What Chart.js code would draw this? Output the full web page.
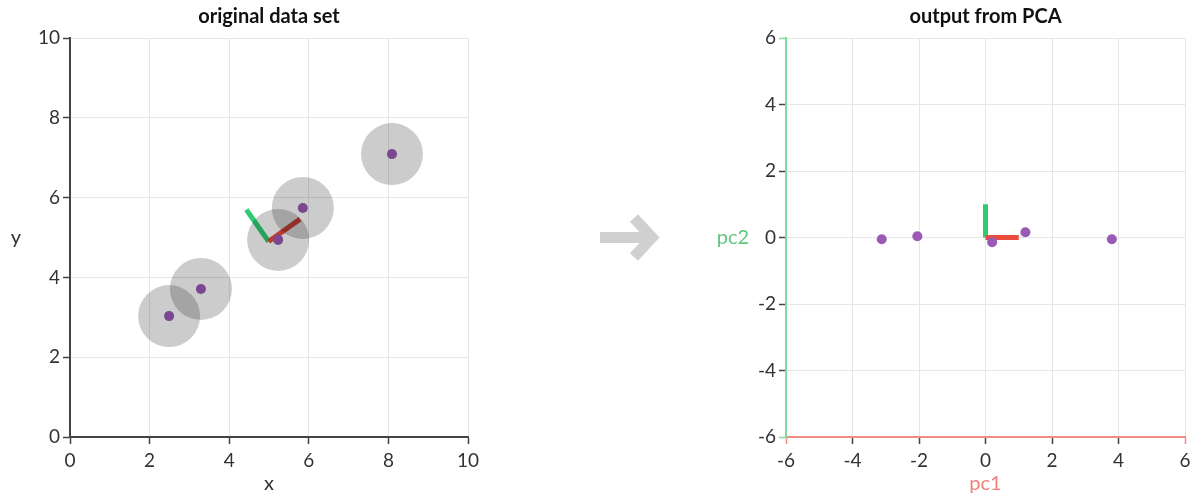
<!DOCTYPE html>
<html lang="en">
<head>
<meta charset="UTF-8" />
<title>PCA</title>
<style>
  body { margin: 0; background: #fff; font-family: Lato, sans-serif; }
  #wrap { position: relative; width: 1194px; height: 497px; }
  #origChart { position: absolute; left: 0; top: 0; }
  #pcaChart { position: absolute; left: 700px; top: 0; }
  #arrow { position: absolute; left: 590px; top: 205px; }
</style>
</head>
<body>
<div id="wrap">
  <canvas id="origChart" width="490" height="497"></canvas>
  <svg id="arrow" width="80" height="70">
    <path d="M10 32.5 H62" stroke="#d0d0d0" stroke-width="11" fill="none" />
    <path d="M44 13 L62 32.5 L44 52" stroke="#d0d0d0" stroke-width="11" fill="none" />
  </svg>
  <canvas id="pcaChart" width="494" height="497"></canvas>
</div>

<script src="https://cdn.jsdelivr.net/npm/chart.js"></script>
<script>
  // original points
  const origX = [2.49, 3.29, 5.23, 5.85, 8.09];
  const origY = [3.03, 3.71, 4.94, 5.74, 7.09];
  // principal axes drawn from the mean
  const meanPt = [4.99, 4.90];
  const pc1End = [5.78, 5.46];
  const pc2End = [4.43, 5.70];
  // points after PCA
  const pcaX = [-3.12, -2.05, 0.20, 1.20, 3.80];
  const pcaY = [-0.05, 0.04, -0.14, 0.16, -0.05];
  const pcaPc1 = [[0, 0], [1, 0]];
  const pcaPc2 = [[0, 0], [0, 1]];
  const origTicks = [0, 2, 4, 6, 8, 10];
  const pcaTicks = [-6, -4, -2, 0, 2, 4, 6];

  const purple = '#9b59b6';
  const red = '#e74c3c';
  const green = '#2ecc71';
  const gridCol = '#e6e6e6';
  const textCol = '#333';
  const tickFont = { family: 'Lato', size: 19 };

  const toPts = (xs, ys) => xs.map((x, i) => ({ x: x, y: ys[i] }));
  const pairPts = (arr) => arr.map(p => ({ x: p[0], y: p[1] }));

  // titles and unrotated axis names
  function labelsPlugin(title, xName, xColor, yName, yColor, yNameX) {
    return {
      id: 'labels',
      afterDraw(chart) {
        const c = chart.ctx, a = chart.chartArea;
        const cx = (a.left + a.right) / 2;
        c.save();
        c.textAlign = 'center';
        c.textBaseline = 'middle';
        c.fillStyle = '#111';
        c.font = 'bold 20px Lato';
        c.fillText(title, cx, 17);
        c.font = '20px Lato';
        c.fillStyle = xColor;
        c.fillText(xName, cx, 484);
        c.fillStyle = yColor;
        c.fillText(yName, yNameX, 238);
        c.restore();
      }
    };
  }

  function axis(ticks, opts) {
    return {
      type: 'linear',
      min: ticks[0],
      max: ticks[ticks.length - 1],
      afterBuildTicks: s => { s.ticks = ticks.map(v => ({ value: v })); },
      ticks: { font: tickFont, color: textCol, padding: opts.pad },
      grid: {
        color: gridCol,
        tickLength: 7,
        tickWidth: 1.5,
        tickColor: opts.tickColor
      },
      border: { color: opts.border, width: 2 },
      afterFit: s => {
        // fixed box sizes, edge labels may overflow into the layout padding
        if (s.isHorizontal()) { s.height = opts.size; s.paddingLeft = 0; s.paddingRight = 0; }
        else { s.width = opts.size; s.paddingTop = 0; s.paddingBottom = 0; }
      }
    };
  }

  new Chart(document.getElementById('origChart'), {
    type: 'scatter',
    data: {
      datasets: [
        {
          data: toPts(origX, origY),
          pointRadius: 31,
          backgroundColor: 'rgba(0,0,0,0.2)',
          borderWidth: 0,
          order: 0
        },
        {
          data: toPts(origX, origY),
          pointRadius: 5,
          backgroundColor: purple,
          borderWidth: 0,
          order: 1
        },
        {
          type: 'line',
          data: pairPts([meanPt, pc1End]),
          borderColor: red,
          borderWidth: 5,
          pointRadius: 0,
          order: 2
        },
        {
          type: 'line',
          data: pairPts([meanPt, pc2End]),
          borderColor: green,
          borderWidth: 5,
          pointRadius: 0,
          order: 2
        }
      ]
    },
    options: {
      responsive: false,
      animation: false,
      events: [],
      layout: { autoPadding: false, padding: { top: 38, right: 22, left: 0, bottom: 0 } },
      plugins: { legend: { display: false }, tooltip: { enabled: false } },
      scales: {
        x: axis(origTicks, { pad: 5, tickColor: '#444', border: '#444', size: 60 }),
        y: axis(origTicks, { pad: 3, tickColor: '#444', border: '#444', size: 70 })
      }
    },
    plugins: [labelsPlugin('original data set', 'x', textCol, 'y', textCol, 16)]
  });

  const salmon = '#f28b82';
  const lightGreen = '#7fdc9a';
  new Chart(document.getElementById('pcaChart'), {
    type: 'scatter',
    data: {
      datasets: [
        {
          data: toPts(pcaX, pcaY),
          pointRadius: 5,
          backgroundColor: purple,
          borderWidth: 0,
          order: 0
        },
        {
          type: 'line',
          data: pairPts(pcaPc1),
          borderColor: red,
          borderWidth: 5,
          pointRadius: 0,
          order: 1
        },
        {
          type: 'line',
          data: pairPts(pcaPc2),
          borderColor: green,
          borderWidth: 5,
          pointRadius: 0,
          order: 1
        }
      ]
    },
    options: {
      responsive: false,
      animation: false,
      events: [],
      layout: { autoPadding: false, padding: { top: 38, right: 9, left: 0, bottom: 0 } },
      plugins: { legend: { display: false }, tooltip: { enabled: false } },
      scales: {
        x: axis(pcaTicks, {
          pad: 5, border: salmon, size: 60,
          tickColor: ctx => (Math.abs(ctx.tick.value) === 6 ? salmon : '#444')
        }),
        y: axis(pcaTicks, {
          pad: 3, border: lightGreen, size: 86,
          tickColor: ctx => (Math.abs(ctx.tick.value) === 6 ? lightGreen : '#444')
        })
      }
    },
    plugins: [labelsPlugin('output from PCA', 'pc1', '#ef7f78', 'pc2', '#5fc77f', 33)]
  });
</script>
</body>
</html>
